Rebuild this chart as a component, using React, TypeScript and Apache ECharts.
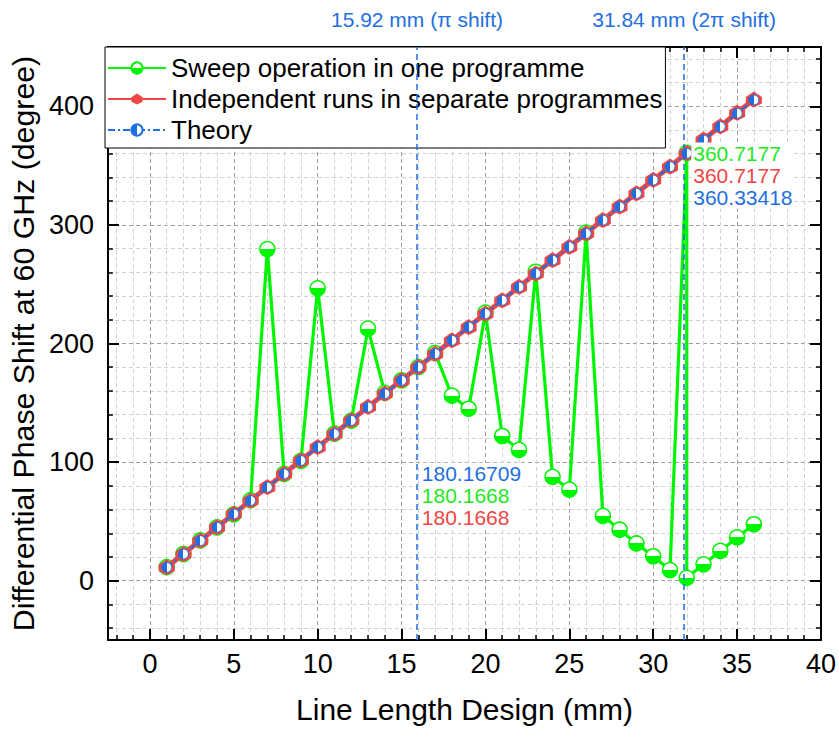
import React, { useEffect, useRef } from "react";
import * as echarts from "echarts";

// ---------- data ----------
const lengthsMm = [1, 2, 3, 4, 5, 6, 7, 8, 9, 10, 11, 12, 13, 14, 15, 16, 17, 18, 19, 20, 21, 22, 23, 24, 25, 26, 27, 28, 29, 30, 31, 32, 33, 34, 35, 36];

const sweepX = [1, 2, 3, 4, 5, 6, 7, 8, 9, 10, 11, 12, 13, 14, 15, 16, 17, 18, 19, 20, 21, 22, 23, 24, 25, 26, 27, 28, 29, 30, 31, 32, 32, 33, 34, 35, 36];
const sweepPhase = [11.5, 22.5, 34, 45, 56, 68, 279.6, 90, 101, 246.5, 124, 135, 212.5, 158.4, 169, 180.1668, 192, 156, 145, 226, 122, 110.3, 260.5, 87.6, 76.8, 293.5, 54.7, 43, 31.4, 20.6, 9, 360.7177, 2.4, 13.8, 25.1, 36.5, 47.6];

const independentPhase = [11.3, 22.6, 33.9, 45.1, 56.4, 67.7, 79.0, 90.2, 101.5, 112.8, 124.0, 135.3, 146.6, 157.9, 169.1, 180.1668, 191.4, 202.7, 214.0, 225.3, 236.5, 247.8, 259.1, 270.4, 281.6, 292.9, 304.2, 315.5, 326.7, 338.0, 349.3, 360.7177, 372.0, 383.2, 394.5, 405.8];

const theoryPhase = [11.26, 22.52, 33.78, 45.04, 56.3, 67.56, 78.82, 90.08, 101.34, 112.6, 123.86, 135.13, 146.39, 157.65, 168.91, 180.16709, 191.43, 202.69, 213.95, 225.21, 236.47, 247.73, 258.99, 270.25, 281.51, 292.77, 304.04, 315.29, 326.55, 337.81, 349.07, 360.33418, 371.59, 382.86, 394.12, 405.38];

const seriesNames = ["Sweep operation in one programme", "Independent runs in separate programmes", "Theory"];

const xMajorTicks = [0, 5, 10, 15, 20, 25, 30, 35, 40];
const xMinorTicks = [-2, -1, 1, 2, 3, 4, 6, 7, 8, 9, 11, 12, 13, 14, 16, 17, 18, 19, 21, 22, 23, 24, 26, 27, 28, 29, 31, 32, 33, 34, 36, 37, 38, 39];
const yMajorTicks = [0, 100, 200, 300, 400];
const yMinorTicks = [-40, -20, 20, 40, 60, 80, 120, 140, 160, 180, 220, 240, 260, 280, 320, 340, 360, 380, 420, 440];

const shiftLines = [15.92, 31.84];
const shiftLabels = ["15.92 mm (\u03c0 shift)", "31.84 mm (2\u03c0 shift)"];

const piAnno = { x: 16, y: 99, theory: "180.16709", sweep: "180.1668", independent: "180.1668" };
const twoPiAnno = { x: 32, y: 360.7177, theory: "360.33418", sweep: "360.7177", independent: "360.7177" };

// ---------- styles ----------
const GREEN = "#00f500";
const GREEN_TXT = "#1ee81e";
const RED = "#f04646";
const BLUE = "#1f6fe0";
const FONT = '"Liberation Sans", Arial, sans-serif';
const NARROW = '"Liberation Sans Narrow", "Arial Narrow", "Liberation Sans", Arial, sans-serif';

export default function App() {
  const ref = useRef<HTMLDivElement>(null);

  useEffect(() => {
    const chart = echarts.init(ref.current!, null, { renderer: "svg" });

    const greenFill = new echarts.graphic.LinearGradient(0, 0, 0, 1, [
      { offset: 0, color: "#ffffff" },
      { offset: 0.5, color: "#ffffff" },
      { offset: 0.5, color: GREEN },
      { offset: 1, color: GREEN },
    ]);
    const blueFill = new echarts.graphic.LinearGradient(0, 0, 1, 0, [
      { offset: 0, color: BLUE },
      { offset: 0.5, color: BLUE },
      { offset: 0.5, color: "#ffffff" },
      { offset: 1, color: "#ffffff" },
    ]);

    const majorSplit = { show: true, lineStyle: { color: "#9c9c9c", width: 1, type: [4, 3] } };
    const minorSplit = { show: true, lineStyle: { color: "#d2d2d2", width: 1, type: [4, 3] } };
    const axisLine = { show: true, onZero: false, lineStyle: { color: "#000", width: 2 } };
    const noLine = { show: false, onZero: false };

    const xBase = { type: "value", min: -2.5, max: 40, gridIndex: 0 };
    const yBase = { type: "value", min: -50, max: 450, gridIndex: 0 };

    const option: any = {
      animation: false,
      backgroundColor: "#ffffff",
      textStyle: { fontFamily: FONT },
      grid: { left: 105, right: 16, top: 47, bottom: 88, containLabel: false },
      legend: {
        data: seriesNames,
        orient: "vertical",
        left: 105,
        top: 47,
        padding: [8, 3, 5, 2],
        itemGap: 5,
        itemWidth: 58,
        itemHeight: 14,
        backgroundColor: "#ffffff",
        borderColor: "#000000",
        borderWidth: 1,
        borderRadius: 0,
        textStyle: { fontSize: 26, color: "#000", fontFamily: FONT },
      },
      xAxis: [
        {
          ...xBase,
          position: "bottom",
          axisLine,
          axisTick: { show: true, inside: true, length: 11, customValues: xMajorTicks, lineStyle: { color: "#000", width: 2 } },
          axisLabel: { show: true, customValues: xMajorTicks, fontSize: 27, fontFamily: NARROW, color: "#000", margin: 10 },
          splitLine: majorSplit,
          name: "Line Length Design (mm)",
          nameLocation: "middle",
          nameGap: 54,
          nameTextStyle: { fontSize: 30, color: "#000", fontFamily: FONT },
        },
        {
          ...xBase,
          position: "bottom",
          axisLine: noLine,
          axisTick: { show: true, inside: true, length: 5, customValues: xMinorTicks, lineStyle: { color: "#000", width: 1.5 } },
          axisLabel: { show: false },
          splitLine: minorSplit,
        },
        {
          ...xBase,
          position: "top",
          axisLine,
          axisTick: { show: true, inside: true, length: 11, customValues: xMajorTicks, lineStyle: { color: "#000", width: 2 } },
          axisLabel: { show: false },
          splitLine: { show: false },
        },
        {
          ...xBase,
          position: "top",
          axisLine: noLine,
          axisTick: { show: true, inside: true, length: 5, customValues: xMinorTicks, lineStyle: { color: "#000", width: 1.5 } },
          axisLabel: { show: false },
          splitLine: { show: false },
        },
      ],
      yAxis: [
        {
          ...yBase,
          position: "left",
          axisLine,
          axisTick: { show: true, inside: true, length: 11, customValues: yMajorTicks, lineStyle: { color: "#000", width: 2 } },
          axisLabel: { show: true, customValues: yMajorTicks, fontSize: 27, fontFamily: NARROW, color: "#000", margin: 14 },
          splitLine: majorSplit,
          name: "Differential Phase Shift at 60 GHz (degree)",
          nameLocation: "middle",
          nameGap: 47,
          nameTextStyle: { fontSize: 30.3, color: "#000", fontFamily: FONT },
        },
        {
          ...yBase,
          position: "left",
          axisLine: noLine,
          axisTick: { show: true, inside: true, length: 5, customValues: yMinorTicks, lineStyle: { color: "#000", width: 1.5 } },
          axisLabel: { show: false },
          splitLine: minorSplit,
        },
        {
          ...yBase,
          position: "right",
          axisLine,
          axisTick: { show: true, inside: true, length: 11, customValues: yMajorTicks, lineStyle: { color: "#000", width: 2 } },
          axisLabel: { show: false },
          splitLine: { show: false },
        },
        {
          ...yBase,
          position: "right",
          axisLine: noLine,
          axisTick: { show: true, inside: true, length: 5, customValues: yMinorTicks, lineStyle: { color: "#000", width: 1.5 } },
          axisLabel: { show: false },
          splitLine: { show: false },
        },
      ],
      series: [
        {
          name: seriesNames[0],
          type: "line",
          xAxisIndex: 0,
          yAxisIndex: 0,
          z: 2,
          data: sweepX.map((x, i) => [x, sweepPhase[i]]),
          symbol: "circle",
          symbolSize: 15,
          showAllSymbol: true,
          lineStyle: { color: GREEN, width: 3.2 },
          itemStyle: { color: greenFill, borderColor: GREEN, borderWidth: 1.5 },
          emphasis: { disabled: true },
        },
        {
          name: seriesNames[1],
          type: "line",
          xAxisIndex: 0,
          yAxisIndex: 0,
          z: 3,
          data: lengthsMm.map((x, i) => [x, independentPhase[i]]),
          symbol: "path://M0,-10 L9.5,-3.1 L9.5,5 L0,10 L-9.5,5 L-9.5,-3.1 Z",
          symbolSize: 16,
          showAllSymbol: true,
          lineStyle: { color: RED, width: 5 },
          itemStyle: { color: RED, borderColor: RED, borderWidth: 0 },
          emphasis: { disabled: true },
        },
        {
          name: seriesNames[2],
          type: "line",
          xAxisIndex: 0,
          yAxisIndex: 0,
          z: 4,
          data: lengthsMm.map((x, i) => [x, theoryPhase[i]]),
          symbol: "circle",
          symbolSize: 10,
          showAllSymbol: true,
          lineStyle: { color: BLUE, width: 2, type: [7, 3, 2, 3] },
          itemStyle: { color: blueFill, borderColor: BLUE, borderWidth: 1 },
          emphasis: { disabled: true },
          markLine: {
            silent: true,
            symbol: ["none", "none"],
            z: 5,
            lineStyle: { color: BLUE, width: 1.5, type: [6, 4] },
            label: {
              show: true,
              position: "end",
              distance: 17,
              color: BLUE,
              fontSize: 21,
              fontFamily: FONT,
            },
            data: shiftLines.map((v, i) => ({ xAxis: v, label: { formatter: shiftLabels[i] } })),
          },
          markPoint: {
            silent: true,
            z: 10,
            symbol: "circle",
            symbolSize: 1,
            itemStyle: { color: "rgba(0,0,0,0)" },
            label: {
              show: true,
              align: "left",
              verticalAlign: "top",
              backgroundColor: "#ffffff",
              padding: [0, 2, 0, 2],
              fontFamily: FONT,
              rich: {
                g: { color: GREEN_TXT, fontSize: 21, lineHeight: 22, fontFamily: FONT },
                r: { color: RED, fontSize: 21, lineHeight: 22, fontFamily: FONT },
                b: { color: BLUE, fontSize: 21, lineHeight: 22, fontFamily: FONT },
              },
            },
            data: [
              {
                coord: [piAnno.x, piAnno.y],
                label: {
                  position: [2, 0],
                  formatter: `{b|${piAnno.theory}}\n{g|${piAnno.sweep}}\n{r|${piAnno.independent}}`,
                },
              },
              {
                coord: [twoPiAnno.x, twoPiAnno.y],
                label: {
                  position: [5, -10],
                  formatter: `{g|${twoPiAnno.sweep}}\n{r|${twoPiAnno.independent}}\n{b|${twoPiAnno.theory}}`,
                },
              },
            ],
          },
        },
      ],
    };

    chart.setOption(option);
    return () => chart.dispose();
  }, []);

  return (
    <div
      ref={ref}
      style={{ position: "fixed", left: 0, top: 0, width: 839, height: 729, background: "#fff" }}
    />
  );
}
